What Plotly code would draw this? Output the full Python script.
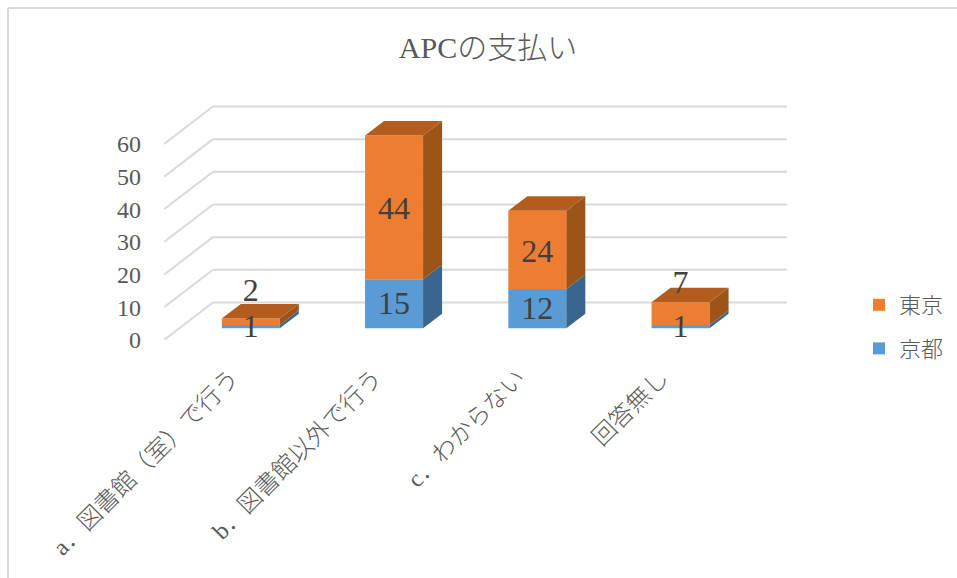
import plotly.graph_objects as go

categories = ["a．図書館（室）で行う", "b．図書館以外で行う", "c．わからない", "回答無し"]
kyoto = [1, 15, 12, 1]
tokyo = [2, 44, 24, 7]
y_ticks = [0, 10, 20, 30, 40, 50, 60]

# Oblique-projection parameters, in axis units
WALL_DX, WALL_DY = 0.342, 11.48
BAR_SHIFT_X, BAR_SHIFT_Y = 0.106, 3.58
BAR_DX, BAR_DY = 0.1326, 4.44
BAR_W = 0.405
LABEL_LIFT = 10

SERIF = "Liberation Serif, Noto Sans CJK JP"
W, H = 957, 578
L, R, B, T = 164, 170, 238, 105

fig = go.Figure()
xc = [i + BAR_SHIFT_X for i in range(len(categories))]

# Front faces (real bars)
series = [
    ("東京", tokyo, "#ed7d31", [k + BAR_SHIFT_Y for k in kyoto]),
    ("京都", kyoto, "#5b9bd5", [BAR_SHIFT_Y] * len(kyoto)),
]
for name, vals, col, base in series:
    fig.add_bar(x=xc, y=vals, base=base, width=BAR_W, name=name, legendgroup=name,
                marker=dict(color=col, line=dict(width=0)), hoverinfo="skip")

# Side and top faces
def poly(xs, ys, col):
    fig.add_scatter(x=xs, y=ys, mode="lines", fill="toself", fillcolor=col,
                    line=dict(width=0, color=col), showlegend=False, hoverinfo="skip")

for i, x in enumerate(xc):
    r = x + BAR_W / 2
    l = x - BAR_W / 2
    b0 = BAR_SHIFT_Y
    b1 = b0 + kyoto[i]
    b2 = b1 + tokyo[i]
    poly([r, r + BAR_DX, r + BAR_DX, r, r], [b0, b0 + BAR_DY, b1 + BAR_DY, b1, b0], "#3a668e")
    poly([r, r + BAR_DX, r + BAR_DX, r, r], [b1, b1 + BAR_DY, b2 + BAR_DY, b2, b1], "#9c5419")
    poly([l, r, r + BAR_DX, l + BAR_DX, l], [b2, b2, b2 + BAR_DY, b2 + BAR_DY, b2], "#b45c1e")

# Data labels
lx, ly, lt = [], [], []
for i, x in enumerate(xc):
    b1 = BAR_SHIFT_Y + kyoto[i]
    lx.append(x); ly.append(BAR_SHIFT_Y + kyoto[i] / 2 - 0.8); lt.append(str(kyoto[i]))
    lift = LABEL_LIFT if tokyo[i] < 10 else 0
    lx.append(x); ly.append(b1 + tokyo[i] / 2 + lift - 1.2); lt.append(str(tokyo[i]))
fig.add_scatter(x=lx, y=ly, text=lt, mode="text", textposition="middle center",
                textfont=dict(family=SERIF, size=32, color="#404040"),
                showlegend=False, hoverinfo="skip")

# Wall gridlines
x_left = -0.5
x_right = x_left + (W - L - R) / 143.25
shapes = []
grid = dict(color="#d9d9d9", width=2)
for v in y_ticks:
    shapes.append(dict(type="line", xref="x", yref="y", layer="below", line=grid,
                       x0=x_left, y0=v, x1=x_left + WALL_DX, y1=v + WALL_DY))
    shapes.append(dict(type="line", xref="x", yref="y", layer="below", line=grid,
                       x0=x_left + WALL_DX, y0=v + WALL_DY, x1=x_right, y1=v + WALL_DY))
# Chart-area border (top and left edges)
px = lambda p: (p - L) / (W - L - R)
py = lambda p: (H - B - p) / (H - B - T)
border = dict(color="#d9d9d9", width=2)
shapes.append(dict(type="line", xref="paper", yref="paper", line=border,
                   x0=px(8), x1=px(957), y0=py(8), y1=py(8)))
shapes.append(dict(type="line", xref="paper", yref="paper", line=border,
                   x0=px(8), x1=px(8), y0=py(8), y1=py(578)))

fig.update_layout(
    width=W, height=H, autosize=False,
    margin=dict(l=L, r=R, t=T, b=B, pad=0, autoexpand=False),
    paper_bgcolor="white", plot_bgcolor="white",
    barmode="overlay",
    shapes=shapes,
    title=dict(text="APCの支払い", x=488 / W, xanchor="center", y=1 - 47 / H, yanchor="middle",
               font=dict(family=SERIF, size=30, color="#595959", weight=300)),
    xaxis=dict(range=[x_left, x_right], tickmode="array", tickvals=list(range(len(categories))),
               ticktext=categories, tickangle=-45, showgrid=False, zeroline=False, showline=False,
               ticks="", ticklabelstandoff=18, ticklabelshift=-4,
               tickfont=dict(family=SERIF, size=24, color="#595959", weight=300)),
    yaxis=dict(range=[0, (H - B - T) / 3.267], tickmode="array", tickvals=y_ticks,
               showgrid=False, zeroline=False, showline=False, ticks="", ticklabelstandoff=22,
               tickfont=dict(family=SERIF, size=24, color="#595959")),
    legend=dict(x=px(859), xanchor="left", y=py(284), yanchor="top",
                traceorder="grouped", tracegroupgap=12, itemclick=False, itemdoubleclick=False,
                font=dict(family=SERIF, size=22, color="#595959", weight=300), bgcolor="rgba(0,0,0,0)"),
    showlegend=True,
)

fig.write_html("out.html", config=dict(displayModeBar=False),
               post_script="document.body.style.margin='0';")
